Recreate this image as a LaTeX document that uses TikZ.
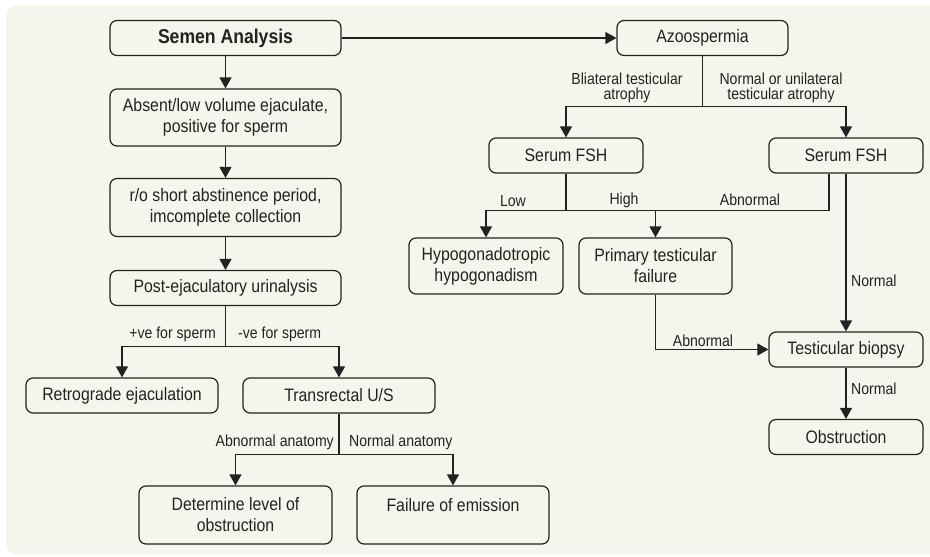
\documentclass[tikz,border=0pt]{standalone}
\usepackage{fontspec}
\setmainfont{Liberation Sans}[FakeStretch=0.88]
\usetikzlibrary{arrows.meta}
\definecolor{figBg}{RGB}{246,245,237}
\definecolor{figK}{RGB}{34,34,34}

\begin{document}
\begin{tikzpicture}[x=1pt,y=-1pt,>={Triangle[length=11pt,width=12pt]},
  box/.style={draw=figK,line width=1.2pt,rounded corners=7pt,fill=figBg,align=center,inner sep=0pt,text=figK,font=\fontsize{18}{21}\selectfont},
  lbl/.style={inner sep=0pt,align=center,text=figK,font=\fontsize{16}{15}\selectfont},
  link/.style={draw=figK,line width=1.2pt}]
\useasboundingbox (0,0) rectangle (930,557);
\fill[figBg,rounded corners=12pt] (6,5) rectangle (950,555);
% left column
\node[box,minimum width=231pt,minimum height=35pt,font=\fontsize{20}{24}\selectfont\bfseries] (semen) at (225.5,38) {Semen Analysis};
\node[box,minimum width=231pt,minimum height=57pt] (absent) at (225.5,117.5) {Absent/low volume ejaculate,\\positive for sperm};
\node[box,minimum width=231pt,minimum height=58pt] (abst) at (225.5,207.5) {r/o short abstinence period,\\imcomplete collection};
\node[box,minimum width=231pt,minimum height=35pt] (post) at (225.5,288) {Post-ejaculatory urinalysis};
\node[box,minimum width=192pt,minimum height=35pt] (retro) at (122,395.5) {Retrograde ejaculation};
\node[box,minimum width=192pt,minimum height=35pt] (trus) at (339,395.5) {Transrectal U/S};
\node[box,minimum width=193pt,minimum height=58pt] (level) at (235.5,515) {Determine level of\\obstruction};
\node[box,minimum width=192pt,minimum height=58pt] (emis) at (453,515) {Failure of emission\\\mbox{}};
% right part
\node[box,minimum width=171pt,minimum height=35pt] (azoo) at (702.5,38) {Azoospermia};
\node[box,minimum width=154pt,minimum height=35pt] (fshA) at (566,155.5) {Serum FSH};
\node[box,minimum width=154pt,minimum height=35pt] (fshB) at (846,155.5) {Serum FSH};
\node[box,minimum width=154pt,minimum height=56pt] (hypo) at (486,266) {Hypogonadotropic\\hypogonadism};
\node[box,minimum width=153pt,minimum height=56pt] (prim) at (655.5,266) {Primary testicular\\failure};
\node[box,minimum width=154pt,minimum height=35pt] (biop) at (846,349.5) {Testicular biopsy};
\node[box,minimum width=154pt,minimum height=35pt] (obst) at (846,437) {Obstruction};
% junctions
\coordinate (pj) at (225.5,346.5);
\coordinate (tj) at (339,454.5);
\coordinate (aj) at (702.5,106.5);
\coordinate (fj) at (566,210.5);
\coordinate (fk) at (655.5,210.5);
\coordinate (pb) at (655.5,349.5);
% connectors
\draw[link,->] (semen) -- (azoo);
\draw[link,->] (semen) -- (absent);
\draw[link,->] (absent) -- (abst);
\draw[link,->] (abst) -- (post);
\draw[link] (post) -- (pj);
\draw[link,->] (pj) -| (retro);
\draw[link,->] (pj) -| (trus);
\draw[link] (trus) -- (tj);
\draw[link,->] (tj) -| (level);
\draw[link,->] (tj) -| (emis);
\draw[link] (azoo) -- (aj);
\draw[link,->] (aj) -| (fshA);
\draw[link,->] (aj) -| (fshB);
\draw[link] (fshA) -- (fj);
\draw[link,->] (fj) -| (hypo);
\draw[link] ([xshift=-17pt]fshB.south) |- (fj);
\draw[link,->] (fk) -- (prim);
\draw[link,->] (fshB) -- (biop);
\draw[link] (prim) -- (pb);
\draw[link,->] (pb) -- (biop);
\draw[link,->] (biop) -- (obst);
% labels
\node[lbl,anchor=base east] (lpos) at (216,338) {+ve for sperm};
\node[lbl,anchor=base west] (lneg) at (238,338) {-ve for sperm};
\node[lbl,anchor=base east] (labn) at (334,446) {Abnormal anatomy};
\node[lbl,anchor=base west] (lnor) at (349,446) {Normal anatomy};
\node[lbl,anchor=north] (lbil) at (627,73) {Bliateral testicular\\atrophy};
\node[lbl,anchor=north] (luni) at (781,73) {Normal or unilateral\\testicular atrophy};
\node[lbl,anchor=base] (llow) at (513,206) {Low};
\node[lbl,anchor=base] (lhigh) at (624,204) {High};
\node[lbl,anchor=base] (lab1) at (750,205) {Abnormal};
\node[lbl,anchor=base west] (lnm1) at (851,286) {Normal};
\node[lbl,anchor=base] (lab2) at (703,346) {Abnormal};
\node[lbl,anchor=base west] (lnm2) at (851,394) {Normal};
\end{tikzpicture}
\end{document}
